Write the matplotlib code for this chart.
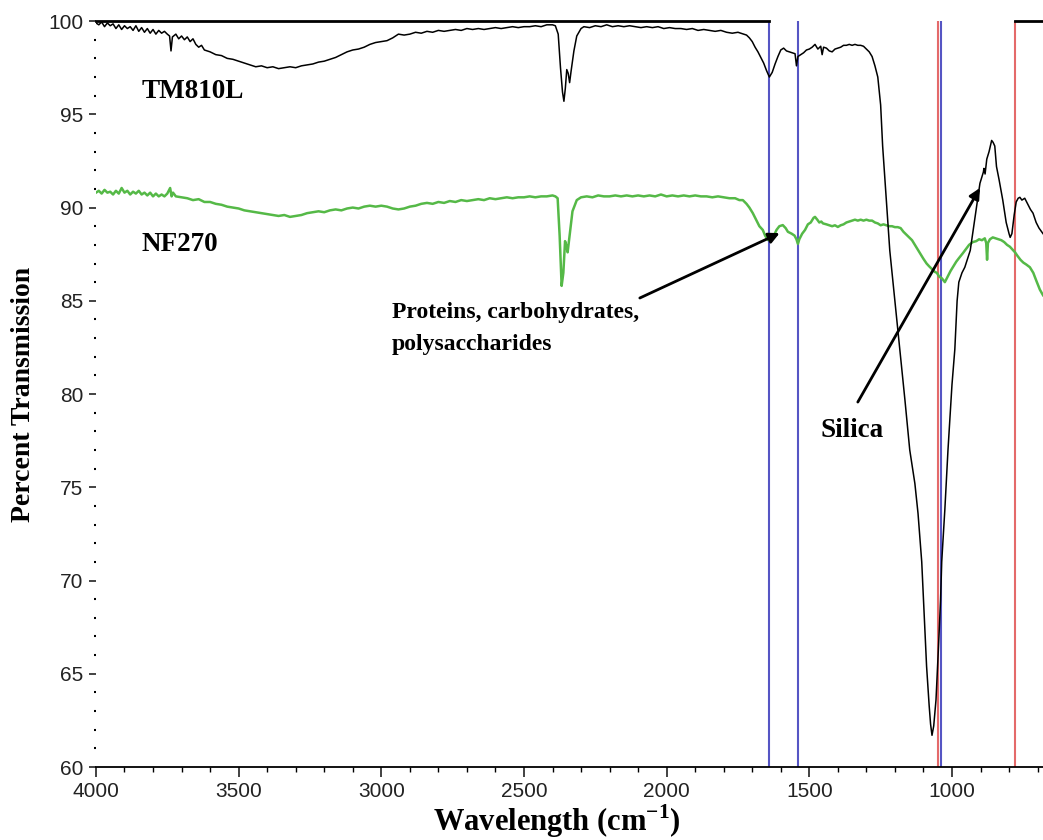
import numpy as np
import matplotlib
matplotlib.use("Agg")
import matplotlib.pyplot as plt
from matplotlib.ticker import MultipleLocator

# TM810L spectrum (black)
tmWave = [4000, 3990, 3980, 3970, 3960, 3950, 3940, 3930, 3920, 3910, 3900, 3890, 3880, 3870, 3860,
          3850, 3840, 3830, 3820, 3810, 3800, 3790, 3780, 3770, 3760, 3750, 3742, 3737, 3732, 3720,
          3710, 3700, 3690, 3680, 3670, 3660, 3650, 3640, 3630, 3620, 3600, 3580, 3560, 3540, 3520,
          3500, 3480, 3460, 3440, 3420, 3400, 3380, 3360, 3340, 3320, 3300, 3280, 3260, 3240, 3220,
          3200, 3180, 3160, 3140, 3120, 3100, 3080, 3060, 3040, 3020, 3000, 2980, 2960, 2940, 2920,
          2900, 2880, 2860, 2840, 2820, 2800, 2780, 2760, 2740, 2720, 2700, 2680, 2660, 2640, 2620,
          2600, 2580, 2560, 2540, 2520, 2500, 2480, 2460, 2440, 2420, 2400, 2390, 2380, 2372, 2365,
          2360, 2355, 2350, 2345, 2340, 2335, 2325, 2315, 2300, 2290, 2270, 2250, 2230, 2210, 2190,
          2170, 2150, 2130, 2110, 2090, 2070, 2050, 2030, 2010, 1990, 1970, 1950, 1930, 1910, 1890,
          1870, 1850, 1830, 1810, 1790, 1770, 1750, 1730, 1720, 1710, 1700, 1690, 1680, 1670, 1660,
          1650, 1640, 1630, 1620, 1610, 1600, 1590, 1580, 1570, 1560, 1550, 1545, 1540, 1530, 1520,
          1510, 1500, 1490, 1480, 1470, 1460, 1455, 1450, 1440, 1430, 1420, 1410, 1400, 1390, 1380,
          1370, 1360, 1350, 1340, 1330, 1320, 1310, 1300, 1290, 1280, 1270, 1260, 1250, 1243, 1235,
          1218, 1200, 1183, 1165, 1148, 1130, 1119, 1106, 1100, 1089, 1080, 1075, 1070, 1064, 1056,
          1048, 1040, 1036, 1025, 1014, 1000, 990, 982, 976, 965, 955, 936, 919, 902, 890,
          888, 884, 878, 870, 861, 856, 850, 844, 835, 822, 810, 800, 796, 790, 782,
          775, 768, 762, 755, 745, 735, 725, 716, 705, 695, 681]
tmTrans = [99.9, 99.8, 99.95, 99.7, 99.9, 99.75, 99.85, 99.6, 99.8, 99.55, 99.75, 99.6, 99.7, 99.5, 99.75,
           99.45, 99.65, 99.4, 99.6, 99.35, 99.55, 99.3, 99.5, 99.35, 99.45, 99.3, 99.2, 98.4, 99.15, 99.3,
           99.05, 99.2, 99.0, 99.15, 98.9, 99.05, 98.75, 98.6, 98.7, 98.45, 98.35, 98.2, 98.15, 98.0, 97.95,
           97.85, 97.75, 97.65, 97.55, 97.6, 97.5, 97.55, 97.45, 97.5, 97.55, 97.5, 97.6, 97.65, 97.7, 97.8,
           97.85, 97.95, 98.05, 98.2, 98.35, 98.45, 98.5, 98.6, 98.75, 98.85, 98.9, 98.95, 99.1, 99.3, 99.25,
           99.3, 99.4, 99.35, 99.45, 99.4, 99.5, 99.45, 99.5, 99.55, 99.5, 99.6, 99.55, 99.6, 99.55, 99.6,
           99.65, 99.6, 99.65, 99.7, 99.65, 99.7, 99.7, 99.75, 99.7, 99.8, 99.8, 99.75, 99.3, 97.5, 96.2,
           95.7, 96.4, 97.4, 97.2, 96.7, 97.3, 98.4, 99.2, 99.6, 99.7, 99.65, 99.75, 99.7, 99.8, 99.7,
           99.75, 99.7, 99.75, 99.7, 99.65, 99.7, 99.65, 99.7, 99.6, 99.65, 99.6, 99.6, 99.55, 99.6, 99.5,
           99.55, 99.5, 99.45, 99.5, 99.4, 99.35, 99.4, 99.3, 99.25, 99.1, 98.9, 98.6, 98.35, 98.05, 97.75,
           97.35, 97.0, 97.25, 97.7, 98.1, 98.45, 98.55, 98.4, 98.35, 98.3, 98.25, 97.6, 98.1, 98.2, 98.3,
           98.45, 98.5, 98.6, 98.75, 98.5, 98.65, 98.2, 98.6, 98.55, 98.4, 98.35, 98.5, 98.55, 98.6, 98.7,
           98.7, 98.75, 98.7, 98.75, 98.7, 98.7, 98.65, 98.5, 98.35, 98.1, 97.6, 97.0, 95.5, 93.3, 91.5,
           87.7, 85.0, 82.4, 79.7, 77.0, 75.2, 73.6, 71.0, 69.0, 65.4, 63.3, 62.3, 61.7, 62.2, 63.6,
           66.2, 68.95, 71.0, 73.8, 77.0, 80.5, 82.4, 85.0, 86.0, 86.5, 86.8, 87.7, 89.5, 91.3, 91.9,
           92.1, 91.8, 92.6, 93.0, 93.6, 93.5, 93.3, 92.2, 91.5, 90.4, 89.2, 88.6, 88.4, 88.6, 89.6,
           90.3, 90.5, 90.55, 90.4, 90.5, 90.2, 89.9, 89.7, 89.2, 88.9, 88.6]

# NF270 spectrum (green)
nfWave = [4000, 3990, 3980, 3970, 3960, 3950, 3940, 3930, 3920, 3910, 3900, 3890, 3880, 3870, 3860,
          3850, 3840, 3830, 3820, 3810, 3800, 3790, 3780, 3770, 3760, 3750, 3740, 3735, 3730, 3720,
          3700, 3680, 3660, 3640, 3620, 3600, 3580, 3560, 3540, 3520, 3500, 3480, 3460, 3440, 3420,
          3400, 3380, 3360, 3340, 3320, 3300, 3280, 3260, 3240, 3220, 3200, 3180, 3160, 3140, 3120,
          3100, 3080, 3060, 3040, 3020, 3000, 2980, 2960, 2940, 2920, 2900, 2880, 2860, 2840, 2820,
          2800, 2780, 2760, 2740, 2720, 2700, 2680, 2660, 2640, 2620, 2600, 2580, 2560, 2540, 2520,
          2500, 2480, 2460, 2440, 2420, 2400, 2390, 2382, 2375, 2368, 2362, 2356, 2352, 2347, 2340,
          2330, 2315, 2300, 2280, 2260, 2240, 2220, 2200, 2180, 2160, 2140, 2120, 2100, 2080, 2060,
          2040, 2020, 2000, 1980, 1960, 1940, 1920, 1900, 1880, 1860, 1840, 1820, 1800, 1780, 1760,
          1745, 1733, 1720, 1710, 1698, 1685, 1675, 1663, 1655, 1645, 1637, 1627, 1615, 1605, 1593,
          1583, 1575, 1562, 1552, 1545, 1540, 1535, 1525, 1515, 1505, 1495, 1485, 1480, 1472, 1465,
          1458, 1452, 1440, 1430, 1420, 1410, 1400, 1390, 1380, 1370, 1360, 1350, 1340, 1330, 1320,
          1310, 1300, 1290, 1280, 1270, 1260, 1250, 1240, 1230, 1220, 1210, 1200, 1190, 1180, 1170,
          1160, 1150, 1140, 1130, 1120, 1110, 1100, 1089, 1080, 1070, 1060, 1053, 1045, 1035, 1025,
          1015, 1005, 997, 985, 975, 962, 950, 940, 927, 915, 905, 895, 885, 880, 877,
          874, 867, 857, 847, 837, 827, 817, 807, 797, 788, 779, 770, 760, 750, 740,
          727, 715, 705, 692, 681]
nfTrans = [90.8, 90.9, 90.75, 90.95, 90.8, 90.85, 90.7, 90.9, 90.75, 91.05, 90.8, 90.9, 90.7, 90.85, 90.75,
           90.9, 90.7, 90.8, 90.65, 90.8, 90.6, 90.75, 90.6, 90.7, 90.6, 90.75, 91.05, 90.6, 90.8, 90.6,
           90.55, 90.5, 90.4, 90.45, 90.3, 90.3, 90.2, 90.15, 90.05, 90.0, 89.95, 89.85, 89.8, 89.75, 89.7,
           89.65, 89.6, 89.55, 89.6, 89.5, 89.55, 89.6, 89.7, 89.75, 89.8, 89.75, 89.85, 89.9, 89.85, 89.95,
           90.0, 89.95, 90.05, 90.1, 90.05, 90.1, 90.05, 89.95, 89.9, 89.95, 90.05, 90.1, 90.2, 90.25, 90.2,
           90.3, 90.25, 90.35, 90.3, 90.4, 90.35, 90.4, 90.45, 90.4, 90.5, 90.45, 90.5, 90.55, 90.5, 90.55,
           90.55, 90.6, 90.55, 90.6, 90.6, 90.65, 90.6, 90.5, 88.5, 85.8, 86.5, 88.2, 88.0, 87.6, 88.5,
           89.8, 90.4, 90.55, 90.6, 90.55, 90.65, 90.6, 90.6, 90.65, 90.6, 90.65, 90.6, 90.65, 90.6, 90.65,
           90.6, 90.7, 90.6, 90.65, 90.6, 90.65, 90.6, 90.65, 90.6, 90.6, 90.55, 90.6, 90.55, 90.5, 90.5,
           90.4, 90.4, 90.2, 90.0, 89.7, 89.3, 89.0, 88.8, 88.5, 88.26, 88.3, 88.4, 88.8, 89.0, 89.06,
           88.9, 88.7, 88.6, 88.5, 88.3, 88.05, 88.3, 88.6, 88.8, 89.1, 89.2, 89.45, 89.5, 89.35, 89.2,
           89.25, 89.15, 89.1, 89.05, 89.0, 89.05, 88.96, 89.05, 89.1, 89.2, 89.25, 89.3, 89.35, 89.3, 89.35,
           89.3, 89.35, 89.3, 89.3, 89.2, 89.15, 89.05, 89.1, 89.05, 89.0, 89.0, 88.95, 88.95, 88.9, 88.7,
           88.55, 88.4, 88.25, 88.0, 87.75, 87.5, 87.25, 87.0, 86.85, 86.7, 86.55, 86.5, 86.3, 86.2, 86.0,
           86.3, 86.6, 86.8, 87.1, 87.3, 87.55, 87.8, 88.0, 88.15, 88.2, 88.3, 88.25, 88.35, 88.1, 87.2,
           88.1, 88.3, 88.4, 88.35, 88.3, 88.25, 88.15, 88.0, 87.9, 87.75, 87.6, 87.4, 87.2, 87.05, 86.95,
           86.8, 86.5, 86.1, 85.6, 85.3]

blueLines = [1642, 1539, 1038]
redLines = [1050, 779]
topSegments = [(4000, 1642), (779, 681)]

serif = "Liberation Serif"
plt.rcParams["font.family"] = "Liberation Sans"
plt.rcParams["mathtext.fontset"] = "custom"
plt.rcParams["mathtext.rm"] = "Liberation Serif:bold"
plt.rcParams["mathtext.bf"] = "Liberation Serif:bold"

fig = plt.figure(figsize=(10.43, 8.4), dpi=100)
ax = fig.add_axes([0.092, 0.0869, 0.908, 0.888])

for x in blueLines:
    ax.axvline(x, color="#5555c4", lw=1.5, zorder=1)
for x in redLines:
    ax.axvline(x, color="#e46a6a", lw=1.5, zorder=1)
for x0, x1 in topSegments:
    ax.plot([x0, x1], [100, 100], color="black", lw=2, clip_on=False, zorder=3)

ax.plot(nfWave, nfTrans, color="#55b947", lw=1.8, zorder=2)
ax.plot(tmWave, tmTrans, color="black", lw=1.1, zorder=3)

ax.set_xlim(4000, 681)
ax.set_ylim(60, 100)
ax.xaxis.set_major_locator(MultipleLocator(500))
ax.xaxis.set_minor_locator(MultipleLocator(100))
ax.yaxis.set_major_locator(MultipleLocator(5))
ax.yaxis.set_minor_locator(MultipleLocator(1))

for s in ["top", "right", "left"]:
    ax.spines[s].set_visible(False)
ax.spines["bottom"].set_linewidth(1.3)

ax.tick_params(axis="x", which="major", direction="out", length=7, width=1.2, labelsize=15, pad=4,
               colors="#222222")
ax.tick_params(axis="x", which="minor", direction="out", length=3.5, width=1.0)
ax.tick_params(axis="y", which="major", direction="out", length=5, width=1.2, labelsize=15, pad=4,
               colors="#222222")
ax.tick_params(axis="y", which="minor", direction="out", length=1.5, width=1.5)

ax.set_xlabel(r"Wavelength (cm$^{\mathrm{-1}}$)", family=serif, weight="bold", fontsize=22, labelpad=1)
ax.xaxis.label.set_x(0.487)
ax.set_ylabel("Percent Transmission", family=serif, weight="bold", fontsize=20, labelpad=9)

ax.text(3841, 95.9, "TM810L", family=serif, weight="bold", fontsize=19.5, va="baseline")
ax.text(3841, 87.67, "NF270", family=serif, weight="bold", fontsize=19.5, va="baseline")
ax.text(2964, 84.93, "Proteins, carbohydrates,\npolysaccharides", family=serif, weight="bold",
        fontsize=17, va="top", ha="left", linespacing=1.65)
ax.text(1460, 77.7, "Silica", family=serif, weight="bold", fontsize=19.5, va="baseline")

ax.annotate("", xy=(1604, 88.63), xytext=(2094, 85.15),
            arrowprops=dict(arrowstyle="-|>", color="black", lw=2, mutation_scale=16,
                            shrinkA=0, shrinkB=0))
ax.annotate("", xy=(902, 91.05), xytext=(1330, 79.57),
            arrowprops=dict(arrowstyle="-|>", color="black", lw=2, mutation_scale=16,
                            shrinkA=0, shrinkB=0))

fig.savefig("out.png", dpi=100)
